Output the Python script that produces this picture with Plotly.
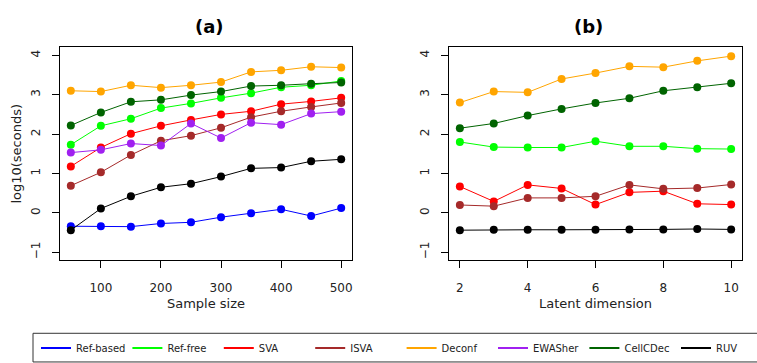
import plotly.graph_objects as go

W, H = 757, 363

methods = ["Ref-based", "Ref-free", "SVA", "ISVA", "Deconf", "EWASher", "CellCDec", "RUV"]
colors = ["#0000FF", "#00FF00", "#FF0000", "#A52A2A", "#FFA500", "#A020F0", "#006400", "#000000"]

sample_size = [50, 100, 150, 200, 250, 300, 350, 400, 450, 500]
a_ref_based = [-0.34, -0.34, -0.35, -0.27, -0.24, -0.11, -0.01, 0.09, -0.08, 0.12]
a_ref_free = [1.73, 2.21, 2.39, 2.66, 2.78, 2.92, 3.04, 3.19, 3.24, 3.35]
a_sva = [1.18, 1.66, 2.01, 2.21, 2.36, 2.50, 2.58, 2.76, 2.83, 2.92]
a_isva = [0.69, 1.03, 1.47, 1.83, 1.96, 2.16, 2.43, 2.58, 2.69, 2.79]
a_deconf = [3.10, 3.08, 3.24, 3.18, 3.24, 3.32, 3.58, 3.62, 3.71, 3.69]
a_ewasher = [1.53, 1.60, 1.76, 1.71, 2.27, 1.90, 2.29, 2.24, 2.52, 2.57]
a_cellcdec = [2.22, 2.55, 2.82, 2.87, 2.99, 3.08, 3.22, 3.24, 3.28, 3.31]
a_ruv = [-0.44, 0.11, 0.42, 0.65, 0.74, 0.92, 1.13, 1.15, 1.31, 1.36]

latent_dim = [2, 3, 4, 5, 6, 7, 8, 9, 10]
b_ref_free = [1.80, 1.67, 1.66, 1.66, 1.82, 1.69, 1.69, 1.63, 1.62]
b_sva = [0.67, 0.29, 0.71, 0.62, 0.21, 0.52, 0.55, 0.23, 0.21]
b_isva = [0.20, 0.17, 0.38, 0.38, 0.42, 0.71, 0.61, 0.63, 0.72]
b_deconf = [2.80, 3.08, 3.06, 3.40, 3.55, 3.72, 3.70, 3.86, 3.98]
b_cellcdec = [2.15, 2.27, 2.47, 2.64, 2.79, 2.91, 3.10, 3.19, 3.29]
b_ruv = [-0.44, -0.43, -0.43, -0.43, -0.43, -0.42, -0.42, -0.41, -0.42]

a_tickvals = [100, 200, 300, 400, 500]
b_tickvals = [2, 4, 6, 8, 10]
y_tickvals = [-1, 0, 1, 2, 3, 4]

panel_a = {"Ref-based": a_ref_based, "Ref-free": a_ref_free, "SVA": a_sva, "ISVA": a_isva,
           "Deconf": a_deconf, "EWASher": a_ewasher, "CellCDec": a_cellcdec, "RUV": a_ruv}
panel_b = {"Ref-free": b_ref_free, "SVA": b_sva, "ISVA": b_isva,
           "Deconf": b_deconf, "CellCDec": b_cellcdec, "RUV": b_ruv}

FONT = "DejaVu Sans"
fig = go.Figure()

for name, col in zip(methods, colors):
    if name in panel_a:
        fig.add_trace(go.Scatter(x=sample_size, y=panel_a[name], mode="lines+markers",
                                 line=dict(color=col, width=1), marker=dict(color=col, size=8),
                                 showlegend=False, xaxis="x", yaxis="y", hoverinfo="skip"))
for name, col in zip(methods, colors):
    if name in panel_b:
        fig.add_trace(go.Scatter(x=latent_dim, y=panel_b[name], mode="lines+markers",
                                 line=dict(color=col, width=1), marker=dict(color=col, size=8),
                                 showlegend=False, xaxis="x2", yaxis="y2", hoverinfo="skip"))
# legend entries (line only); the last entry lives in a second legend so the row fits the page
for i, (name, col) in enumerate(zip(methods, colors)):
    fig.add_trace(go.Scatter(x=[None], y=[None], mode="lines", name=name,
                             line=dict(color=col, width=2), xaxis="x", yaxis="y",
                             legend="legend" if i < len(methods) - 1 else "legend2"))

def px_x(p):
    return p / W

def px_y(p):
    return (H - p) / H

ydom = [px_y(263), px_y(48)]
axis_common = dict(showgrid=False, zeroline=False, showline=True, linecolor="black", linewidth=1,
                   mirror=True, ticks="outside", ticklen=7, tickcolor="black",
                   tickfont=dict(family=FONT, size=12, color="#222"))

legend_common = dict(orientation="h", xanchor="left", y=px_y(352), yanchor="middle",
                     font=dict(family=FONT, size=10, color="#222"),
                     entrywidthmode="pixels", bgcolor="rgba(0,0,0,0)", borderwidth=0, itemwidth=30)

fig.update_layout(
    width=W, height=H,
    margin=dict(l=0, r=0, t=0, b=0),
    paper_bgcolor="white", plot_bgcolor="white",
    font=dict(family=FONT, color="#222"),
    xaxis=dict(domain=[px_x(60), px_x(352)], range=[32, 518], tickvals=a_tickvals,
               ticklabelstandoff=9,
               title=dict(text="Sample size", font=dict(family=FONT, size=13), standoff=5),
               anchor="y", **axis_common),
    yaxis=dict(domain=ydom, range=[-1.2, 4.2], tickvals=y_tickvals, tickangle=-90,
               ticklabelstandoff=7,
               title=dict(text="log10(seconds)", font=dict(family=FONT, size=13), standoff=4),
               anchor="x", **axis_common),
    xaxis2=dict(domain=[px_x(449), px_x(742)], range=[1.68, 10.32], tickvals=b_tickvals,
                ticklabelstandoff=9,
                title=dict(text="Latent dimension", font=dict(family=FONT, size=13), standoff=5),
                anchor="y2", **axis_common),
    yaxis2=dict(domain=ydom, range=[-1.2, 4.2], tickvals=y_tickvals, tickangle=-90,
                ticklabelstandoff=7,
                anchor="x2", **axis_common),
    legend=dict(x=px_x(36), entrywidth=46.4, **legend_common),
    legend2=dict(x=px_x(676), entrywidth=28, **legend_common),
    shapes=[dict(type="rect", xref="paper", yref="paper", x0=px_x(33), x1=px_x(W + 3),
                 y0=px_y(H + 3), y1=px_y(337), line=dict(color="#333", width=1))],
    annotations=[
        dict(text="<b>(a)</b>", x=px_x(209), y=px_y(27), xref="paper", yref="paper",
             xanchor="center", yanchor="middle",
             showarrow=False, font=dict(family=FONT, size=18, color="black")),
        dict(text="<b>(b)</b>", x=px_x(588), y=px_y(27), xref="paper", yref="paper",
             xanchor="center", yanchor="middle",
             showarrow=False, font=dict(family=FONT, size=18, color="black")),
    ],
)

fig.write_html("out.html", config={"displayModeBar": False},
               post_script="document.body.style.margin='0';document.body.style.overflow='hidden';")
